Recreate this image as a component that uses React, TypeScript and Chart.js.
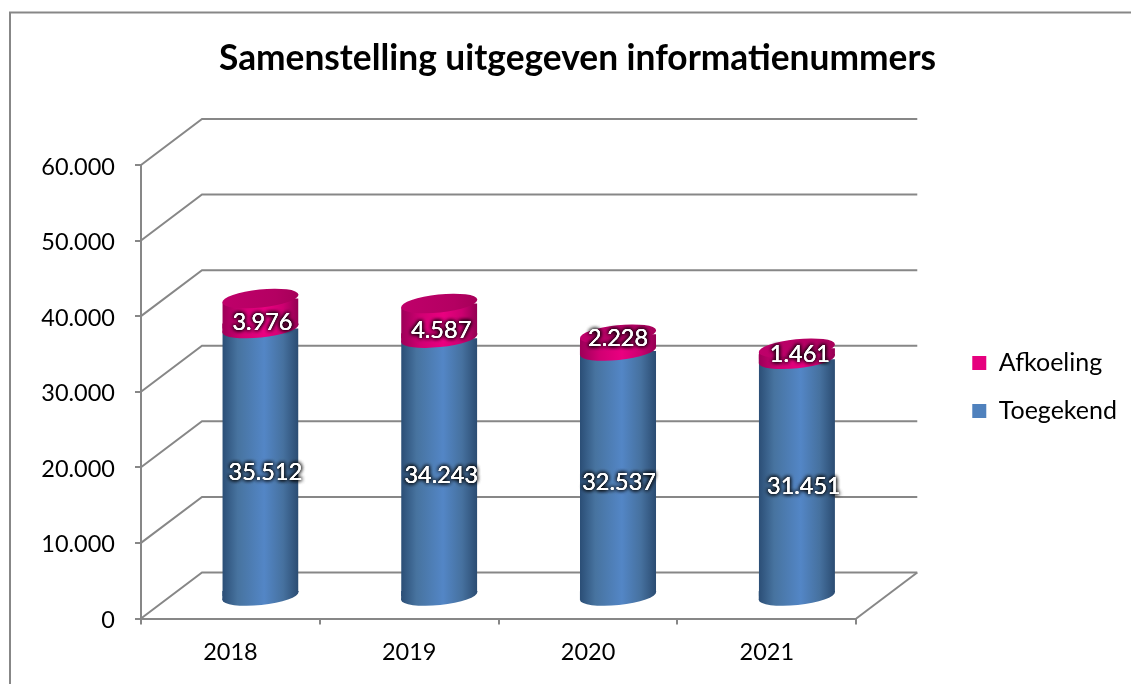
import React, { useEffect, useRef } from "react";
import { Chart, registerables } from "chart.js";

Chart.register(...registerables);

const categories = ["2018", "2019", "2020", "2021"];
const toegekend = [35512, 34243, 32537, 31451];
const afkoeling = [3976, 4587, 2228, 1461];
const seriesNames = ["Toegekend", "Afkoeling"];

const FONT = "Lato";
const GREY = "#878787";
const BLUE = "#4f81bd";
const PINK = "#e6007e";
const DEPTH_X = 61;
const DEPTH_Y = -46;
const BAR_DX = 30;
const BAR_DY = -21.5;
const RY = 9;
const ROT = (-6 * Math.PI) / 180;
const BLUE_SHIFT_X = [5, 2, 1, 7];
const BLUE_SHIFT_Y = [10, 8, 9, 9];
const PINK_SHIFT_X = [2, 2, 0, 3];
const PINK_SHIFT_Y = [9, 10, -4, 1];
const LEGEND_SHIFT = 90;

const fmt = (v: number) => String(v).replace(/\B(?=(\d{3})+(?!\d))/g, ".");

function blueGrad(ctx: CanvasRenderingContext2D, x: number, w: number) {
  const g = ctx.createLinearGradient(x - w / 2, 0, x + w / 2, 0);
  g.addColorStop(0, "#2b4e76");
  g.addColorStop(0.2, "#47739f");
  g.addColorStop(0.55, "#5386c6");
  g.addColorStop(0.8, "#46719f");
  g.addColorStop(1, "#2b4c72");
  return g;
}
function pinkGrad(ctx: CanvasRenderingContext2D, x: number, w: number) {
  const g = ctx.createLinearGradient(x - w / 2, 0, x + w / 2, 0);
  g.addColorStop(0, "#9c0058");
  g.addColorStop(0.25, "#d00072");
  g.addColorStop(0.55, "#ea0080");
  g.addColorStop(0.8, "#cc0070");
  g.addColorStop(1, "#930052");
  return g;
}

const cylinderPlugin = {
  id: "cylinder",
  afterLayout(chart: any) {
    chart.legend.top += LEGEND_SHIFT;
  },
  beforeDraw(chart: any) {
    const { ctx, width, height } = chart;
    ctx.save();
    ctx.strokeStyle = GREY;
    ctx.lineWidth = 2;
    ctx.beginPath();
    ctx.moveTo(10, height);
    ctx.lineTo(10, 12.5);
    ctx.lineTo(width, 12.5);
    ctx.stroke();
    ctx.restore();
  },
  beforeDatasetsDraw(chart: any) {
    const { ctx, chartArea, scales } = chart;
    ctx.save();
    ctx.strokeStyle = GREY;
    ctx.lineWidth = 2;
    scales.y.ticks.forEach((t: any) => {
      const y = scales.y.getPixelForValue(t.value);
      ctx.beginPath();
      ctx.moveTo(chartArea.left, y);
      ctx.lineTo(chartArea.left + DEPTH_X, y + DEPTH_Y);
      ctx.lineTo(chartArea.right + DEPTH_X, y + DEPTH_Y);
      ctx.stroke();
    });
    const y0 = scales.y.getPixelForValue(0);
    ctx.beginPath();
    ctx.moveTo(chartArea.right, y0);
    ctx.lineTo(chartArea.right + DEPTH_X, y0 + DEPTH_Y);
    ctx.stroke();
    ctx.restore();
  },
  beforeDatasetDraw(chart: any, args: any) {
    const { ctx } = chart;
    ctx.save();
    ctx.translate(BAR_DX, BAR_DY);
    const s = Math.tan(-ROT);
    ctx.beginPath();
    args.meta.data.forEach((el: any) => {
      const r = el.width / 2;
      const d = s * r;
      ctx.moveTo(el.x - r, el.y + d);
      ctx.lineTo(el.x + r, el.y - d);
      ctx.lineTo(el.x + r, el.base - d);
      ctx.lineTo(el.x - r, el.base + d);
      ctx.closePath();
    });
    ctx.clip();
  },
  afterDatasetDraw(chart: any) {
    chart.ctx.restore();
  },
  afterDatasetsDraw(chart: any) {
    const { ctx } = chart;
    const blue = chart.getDatasetMeta(0).data;
    const pink = chart.getDatasetMeta(1).data;
    const d0 = Math.tan(-ROT);
    ctx.save();
    ctx.translate(BAR_DX, BAR_DY);
    const ell = (x: number, y: number, w: number, fill: any) => {
      const r = w / 2;
      const d = d0 * r;
      ctx.fillStyle = fill;
      ctx.beginPath();
      ctx.moveTo(x - r, y - d - 1);
      ctx.lineTo(x + r, y - d - 1);
      ctx.lineTo(x + r, y - d);
      ctx.lineTo(x - r, y + d);
      ctx.closePath();
      ctx.fill();
      ctx.beginPath();
      ctx.ellipse(x, y, r / Math.cos(ROT), RY, ROT, 0, Math.PI * 2);
      ctx.fill();
    };
    blue.forEach((el: any) => ell(el.x, el.base, el.width, blueGrad(ctx, el.x, el.width)));
    pink.forEach((el: any) => {
      ell(el.x, el.base, el.width, pinkGrad(ctx, el.x, el.width));
      const g = ctx.createLinearGradient(el.x - el.width / 2, 0, el.x + el.width / 2, 0);
      g.addColorStop(0, "#bf006a");
      g.addColorStop(0.7, "#b40062");
      g.addColorStop(1, "#a60059");
      ctx.fillStyle = g;
      ctx.beginPath();
      ctx.ellipse(el.x, el.y, (el.width / 2) / Math.cos(ROT), RY, ROT, 0, Math.PI * 2);
      ctx.fill();
    });
    ctx.font = `23.5px ${FONT}`;
    ctx.textAlign = "center";
    ctx.textBaseline = "middle";
    const label = (el: any, v: number, sx: number, sy: number) => {
      const x = el.x + sx;
      const y = (el.y + el.base) / 2 + sy;
      ctx.save();
      ctx.shadowColor = "rgba(0,0,0,1)";
      ctx.shadowBlur = 4;
      ctx.fillStyle = "#ffffff";
      ctx.fillText(fmt(v), x, y);
      ctx.fillText(fmt(v), x, y);
      ctx.fillText(fmt(v), x, y);
      ctx.restore();
      ctx.fillStyle = "#ffffff";
      ctx.fillText(fmt(v), x, y);
    };
    blue.forEach((el: any, i: number) => label(el, toegekend[i], BLUE_SHIFT_X[i], BLUE_SHIFT_Y[i]));
    pink.forEach((el: any, i: number) => label(el, afkoeling[i], PINK_SHIFT_X[i], PINK_SHIFT_Y[i]));
    ctx.restore();
  },
};

export default function App() {
  const ref = useRef<HTMLCanvasElement | null>(null);
  useEffect(() => {
    const chart = new Chart(ref.current as HTMLCanvasElement, {
      type: "bar",
      plugins: [cylinderPlugin],
      data: {
        labels: categories,
        datasets: [
          {
            label: seriesNames[0],
            data: toegekend,
            clip: false,
            backgroundColor: (c: any) => {
              const x = c.chart.scales.x;
              if (!x || c.dataIndex === undefined) return BLUE;
              return blueGrad(c.chart.ctx, x.getPixelForValue(c.dataIndex), 76);
            },
          },
          {
            label: seriesNames[1],
            data: afkoeling,
            clip: false,
            backgroundColor: (c: any) => {
              const x = c.chart.scales.x;
              if (!x || c.dataIndex === undefined) return PINK;
              return pinkGrad(c.chart.ctx, x.getPixelForValue(c.dataIndex), 76);
            },
          },
        ],
      } as any,
      options: {
        animation: false,
        responsive: false,
        events: [],
        layout: { padding: { left: 28, right: 4, top: 0, bottom: 0 } },
        datasets: { bar: { barPercentage: 0.426, categoryPercentage: 1, borderWidth: 0 } },
        plugins: {
          tooltip: { enabled: false },
          title: {
            display: true,
            text: "Samenstelling uitgegeven informatienummers",
            color: "#000000",
            font: { family: FONT, size: 35.3, weight: "bold" },
            padding: { top: 37, bottom: 85.6 },
          },
          legend: {
            position: "right",
            reverse: true,
            labels: {
              font: { family: FONT, size: 25 },
              color: "#000000",
              boxWidth: 14,
              boxHeight: 14,
              padding: 23,
              generateLabels: () =>
                [
                  { text: seriesNames[0], fillStyle: BLUE, datasetIndex: 0 },
                  { text: seriesNames[1], fillStyle: PINK, datasetIndex: 1 },
                ].map((l) => ({ ...l, strokeStyle: l.fillStyle, lineWidth: 0, hidden: false })),
            },
          },
        },
        scales: {
          x: {
            stacked: true,
            afterFit: (s: any) => {
              s.height = 65.5;
            },
            border: { color: GREY, width: 2 },
            grid: { drawOnChartArea: false, drawTicks: true, tickLength: 6, color: GREY, lineWidth: 2 },
            ticks: { color: "#000000", font: { family: FONT, size: 23.5 }, padding: 14, maxRotation: 0 },
          },
          y: {
            stacked: true,
            min: 0,
            max: 60000,
            afterFit: (s: any) => {
              s.width = 113;
            },
            border: { color: GREY, width: 2 },
            grid: { drawOnChartArea: false, drawTicks: true, tickLength: 6, color: GREY, lineWidth: 2 },
            ticks: {
              color: "#000000",
              font: { family: FONT, size: 23.5 },
              padding: 20,
              labelOffset: 2,
              stepSize: 10000,
              callback: (v: any) => fmt(v),
            },
          },
          gap: {
            position: "right",
            display: true,
            afterFit: (s: any) => {
              s.width = 93;
            },
            border: { display: false },
            grid: { display: false },
            ticks: { display: false },
          },
        },
      } as any,
    });
    return () => chart.destroy();
  }, []);
  return (
    <div style={{ position: "fixed", left: 0, top: 0, width: 1131, height: 684 }}>
      <canvas ref={ref} width={1131} height={684} style={{ display: "block" }} />
    </div>
  );
}
